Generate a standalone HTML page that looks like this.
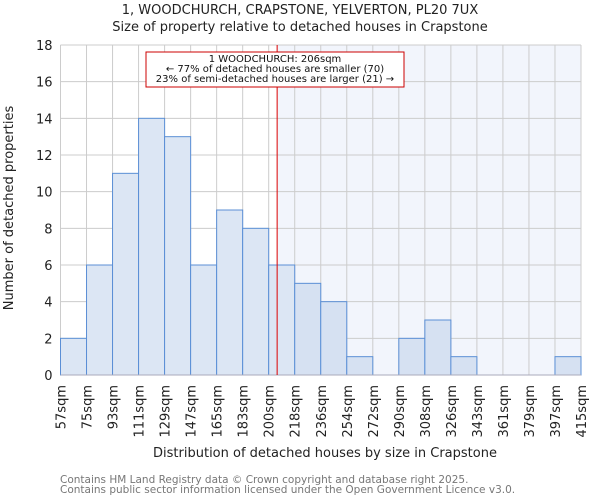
<!DOCTYPE html>
<html><head><meta charset="utf-8"><style>
body{margin:0;background:#fff;font-family:"DejaVu Sans","Liberation Sans",sans-serif}
</style></head><body>
<svg id="chart" width="600" height="500" xmlns="http://www.w3.org/2000/svg" font-family="DejaVu Sans, Liberation Sans, sans-serif">
<text x="300" y="14" text-anchor="middle" font-size="13" fill="#222">1, WOODCHURCH, CRAPSTONE, YELVERTON, PL20 7UX</text>
<text x="300" y="31" text-anchor="middle" font-size="13" fill="#222">Size of property relative to detached houses in Crapstone</text>
<g id="plot"></g>
<text x="325" y="457" text-anchor="middle" font-size="13" fill="#222">Distribution of detached houses by size in Crapstone</text>
<text transform="translate(13,208) rotate(-90)" text-anchor="middle" font-size="13" fill="#222">Number of detached properties</text>
<text x="60" y="483" font-size="10.5" fill="#777">Contains HM Land Registry data © Crown copyright and database right 2025.</text>
<text x="60" y="493" font-size="10.5" fill="#777">Contains public sector information licensed under the Open Government Licence v3.0.</text>
</svg>
<script>
const tickLabels=["57sqm","75sqm","93sqm","111sqm","129sqm","147sqm","165sqm","183sqm","200sqm","218sqm","236sqm","254sqm","272sqm","290sqm","308sqm","326sqm","343sqm","361sqm","379sqm","397sqm","415sqm"];
const counts=[2,6,11,14,13,6,9,8,6,5,4,1,0,2,3,1,0,0,0,1];
const yTicks=[0,2,4,6,8,10,12,14,16,18];
const propertySize=206;
const xMin=57,xMax=415;
const L=60.5,R=581,T=45,B=375;
const NS="http://www.w3.org/2000/svg";
const g=document.getElementById('plot');
const bw=(R-L)/counts.length;
const xs=v=>L+(v-xMin)/(xMax-xMin)*(R-L);
const ys=v=>B-v/18*(B-T);
function mk(t,a){const e=document.createElementNS(NS,t);for(const k in a)e.setAttribute(k,a[k]);g.appendChild(e);return e;}
const px=xs(propertySize);
let sh=mk('rect',{x:px,y:T,width:R-px,height:B-T,fill:'#f2f5fc'});


yTicks.forEach(v=>{const y=ys(v);
 let l=mk('line',{x1:L,x2:R,y1:y,y2:y,stroke:'#ccc','stroke-width':1});
 
 
 let t=mk('text',{x:L-8,y:y+5,'text-anchor':'end','font-size':13,fill:'#222'});t.textContent=v;
 
 
});
tickLabels.forEach((s,i)=>{const x=L+i*bw;
 let l=mk('line',{x1:x,x2:x,y1:T,y2:B,stroke:'#ccc','stroke-width':1});
 
 
 let t=mk('text',{transform:`translate(${x+5},385) rotate(-90)`,'text-anchor':'end','font-size':13,fill:'#222'});t.textContent=s;
 
 
});
counts.forEach((c,i)=>{if(!c)return;const x=L+i*bw;const right=x>=px;
 let r=mk('rect',{x:x,y:ys(c),width:bw,height:B-ys(c),fill:right?'#d6e1f2':'#dce6f4',stroke:'#5b8fd6','stroke-width':1});
 
 
});
let ax=mk('line',{x1:L,x2:R,y1:B,y2:B,stroke:'#aab','stroke-width':1});


let m=mk('line',{x1:px,x2:px,y1:T,y2:B,stroke:'#d00','stroke-width':1});


let box=mk('rect',{x:146,y:52,width:258,height:35,fill:'#fff',stroke:'#c00','stroke-width':1});


["1 WOODCHURCH: 206sqm","← 77% of detached houses are smaller (70)","23% of semi-detached houses are larger (21) →"].forEach((s,i)=>{
 let t=mk('text',{x:275,y:62+i*10,'text-anchor':'middle','font-size':10,fill:'#111'});t.textContent=s;
 
 
});
</script>
</body></html>
